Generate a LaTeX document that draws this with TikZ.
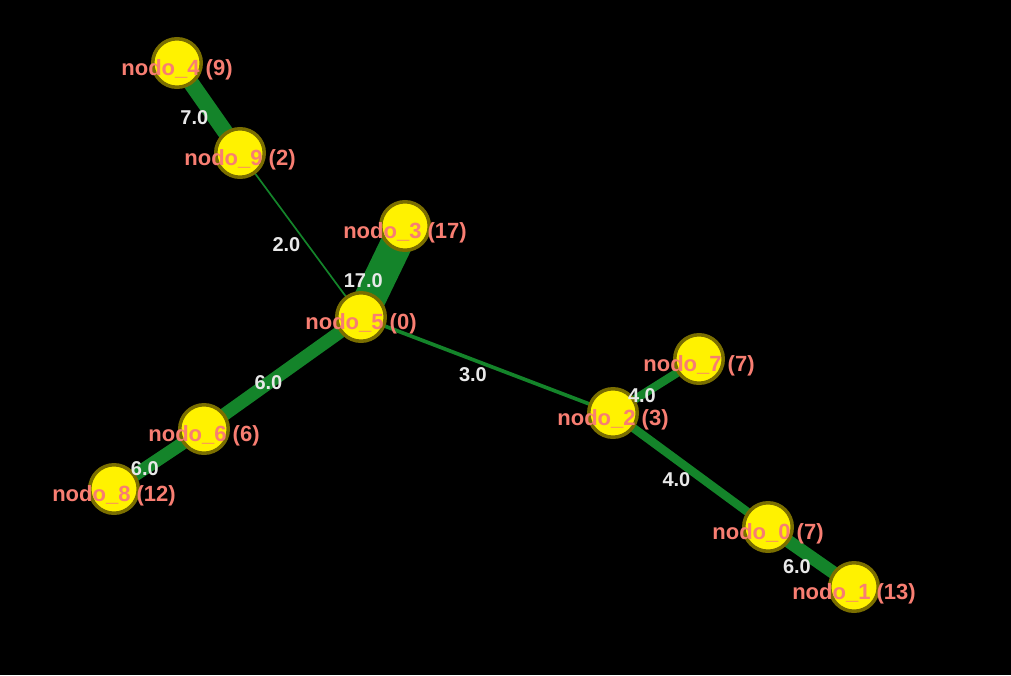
\documentclass[tikz,border=0pt]{standalone}
\usepackage{fontspec}
\setmainfont{Liberation Sans}
\usetikzlibrary{positioning, calc}

\definecolor{edgegreen}{RGB}{20,132,42}
\definecolor{nodeborder}{RGB}{122,110,0}
\definecolor{nodetext}{RGB}{248,126,114}
\definecolor{weighttext}{RGB}{232,232,232}

\begin{document}
\begin{tikzpicture}[x=1pt,y=-1pt,
        vertex/.style={circle,fill=yellow,draw=nodeborder,line width=3.5pt,minimum size=48.5pt,inner sep=0pt},
        vname/.style={text=nodetext,font=\fontsize{22}{22}\selectfont\bfseries,inner sep=0pt,anchor=base},
        wlabel/.style={text=weighttext,font=\fontsize{20}{20}\selectfont\bfseries,inner sep=0pt,anchor=north east,yshift=-2pt},
        link/.style={draw=edgegreen}]
            \fill[black] (0,0) rectangle (1011,675);
            \useasboundingbox (0,0) rectangle (1011,675);

            \foreach \i/\x/\y in {0/768/527, 1/854/587, 2/613/413, 3/405/226, 4/177/63,
                                  5/361/317, 6/204/429, 7/699/359, 8/114/489, 9/240/153}
            {
                \coordinate (p\i) at (\x,\y);
            }

            \draw[link,line width=16pt]  (p4) -- (p9);
            \draw[link,line width=1.7pt] (p9) -- (p5);
            \draw[link,line width=32pt]  (p3) -- (p5);
            \draw[link,line width=13pt]  (p5) -- (p6);
            \draw[link,line width=13pt]  (p6) -- (p8);
            \draw[link,line width=3.7pt] (p5) -- (p2);
            \draw[link,line width=8.5pt] (p2) -- (p7);
            \draw[link,line width=8.5pt] (p2) -- (p0);
            \draw[link,line width=13pt]  (p0) -- (p1);

            \foreach \i in {0,1,...,9}
            {
                \node[vertex] (n\i) at (p\i) {};
            }

            \foreach \i/\c in {0/7, 1/13, 2/3, 3/17, 4/9, 5/0, 6/6, 7/7, 8/12, 9/2}
            {
                \node[vname] (t\i) at ([yshift=-12pt]n\i.center) {nodo\_\i{} (\c)};
            }

            %% weights
            \path (p4) -- (p9) node[wlabel,pos=0.5] (w49) {7.0};
            \path (p9) -- (p5) node[wlabel,pos=0.5] (w95) {2.0};
            \path (p3) -- (p5) node[wlabel,pos=0.5] (w35) {17.0};
            \path (p5) -- (p6) node[wlabel,pos=0.5] (w56) {6.0};
            \path (p6) -- (p8) node[wlabel,pos=0.5] (w68) {6.0};
            \path (p5) -- (p2) node[wlabel,pos=0.5] (w52) {3.0};
            \path (p2) -- (p7) node[wlabel,pos=0.5] (w27) {4.0};
            \path (p2) -- (p0) node[wlabel,pos=0.5] (w20) {4.0};
            \path (p0) -- (p1) node[wlabel,pos=0.5] (w01) {6.0};

\end{tikzpicture}
\end{document}
